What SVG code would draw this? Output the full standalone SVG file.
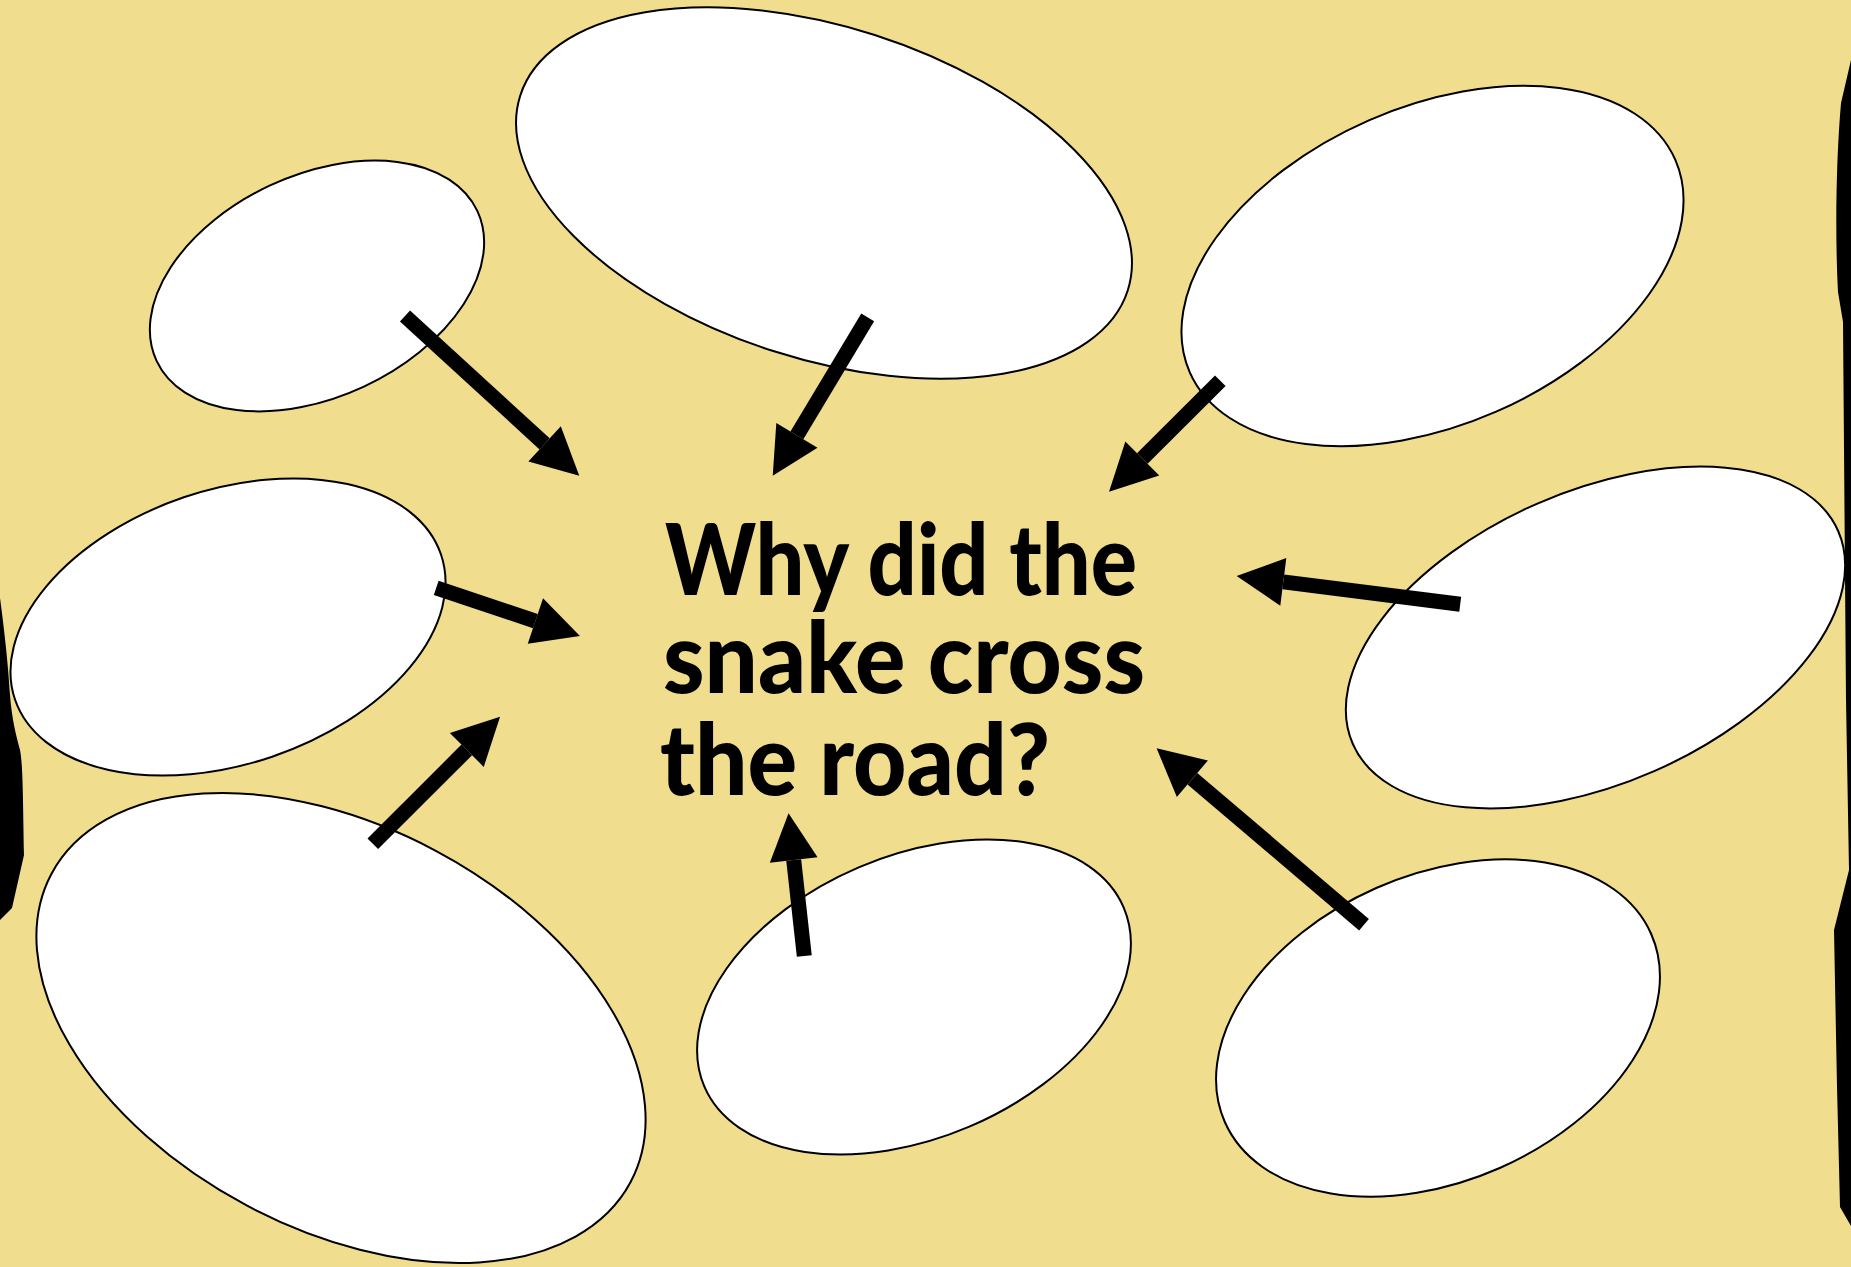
<svg xmlns="http://www.w3.org/2000/svg" width="1851" height="1267" viewBox="0 0 1851 1267">
<defs>
<style>
.bubble{fill:#ffffff;stroke:#000000;stroke-width:2}
.arrow{stroke:#000000;stroke-width:15;fill:none;marker-end:url(#head)}
.edge{fill:#000000}
.q{font-family:Lato,"Liberation Sans",sans-serif;font-weight:900;font-size:100px;fill:#000000}
</style>
<marker id="head" markerUnits="userSpaceOnUse" markerWidth="48" markerHeight="48" viewBox="0 0 48 48" refX="0" refY="24" orient="auto" overflow="visible">
<path d="M0,0 L47,24 L0,48 Z" fill="#000000"/>
</marker>
</defs>
<rect x="0" y="0" width="1851" height="1267" fill="#F0DE8E"/>
<g id="edges">
<path class="edge" d="M0,598 C3,620 8,660 10,695 C12,720 16,735 20,750 C23,765 23,800 24,855 L12,908 L0,920 Z"/>
<path class="edge" d="M1851,60 L1841,103 C1836,160 1835,235 1838,292 L1843,322 L1846,700 L1849,870 L1834,930 L1837,1087 L1840,1207 L1851,1226 Z"/>
</g>
<g id="node-1"><ellipse class="bubble" cx="317" cy="286" rx="177" ry="111" transform="rotate(-25 317 286)"/></g>
<g id="node-2"><ellipse class="bubble" cx="824" cy="193" rx="319" ry="166" transform="rotate(17.8 824 193)"/></g>
<g id="node-3"><ellipse class="bubble" cx="1432.5" cy="266" rx="265" ry="159" transform="rotate(-23.6 1432.5 266)"/></g>
<g id="node-4"><ellipse class="bubble" cx="228" cy="627" rx="225" ry="137" transform="rotate(-18.8 228 627)"/></g>
<g id="node-5"><ellipse class="bubble" cx="341" cy="1028" rx="328" ry="201" transform="rotate(28 341 1028)"/></g>
<g id="node-6"><ellipse class="bubble" cx="1595.5" cy="637.5" rx="265" ry="146" transform="rotate(-23.7 1595.5 637.5)"/></g>
<g id="node-7"><ellipse class="bubble" cx="914" cy="997" rx="228" ry="141" transform="rotate(-23.1 914 997)"/></g>
<g id="node-8"><ellipse class="bubble" cx="1438" cy="1028" rx="233" ry="153" transform="rotate(-23.8 1438 1028)"/></g>
<g id="center">
<text class="q" x="665" y="595" textLength="472" lengthAdjust="spacingAndGlyphs">Why did the</text>
<text class="q" x="663" y="693" textLength="482" lengthAdjust="spacingAndGlyphs">snake cross</text>
<text class="q" x="660" y="795" textLength="390" lengthAdjust="spacingAndGlyphs">the road?</text>
</g>
<g id="connectors">
<line class="arrow" x1="405" y1="316" x2="544.6" y2="443.9"/>
<line class="arrow" x1="867.7" y1="317.3" x2="796.9" y2="435.4"/>
<line class="arrow" x1="1220.3" y1="380.7" x2="1142.3" y2="458.5"/>
<line class="arrow" x1="1460.2" y1="604.2" x2="1283.3" y2="581.9"/>
<line class="arrow" x1="436.2" y1="587.8" x2="535.4" y2="621.1"/>
<line class="arrow" x1="372.8" y1="843.8" x2="466.8" y2="749.9"/>
<line class="arrow" x1="804.3" y1="956" x2="793.7" y2="860"/>
<line class="arrow" x1="1364" y1="924.7" x2="1192.4" y2="778.7"/>
</g>
</svg>
